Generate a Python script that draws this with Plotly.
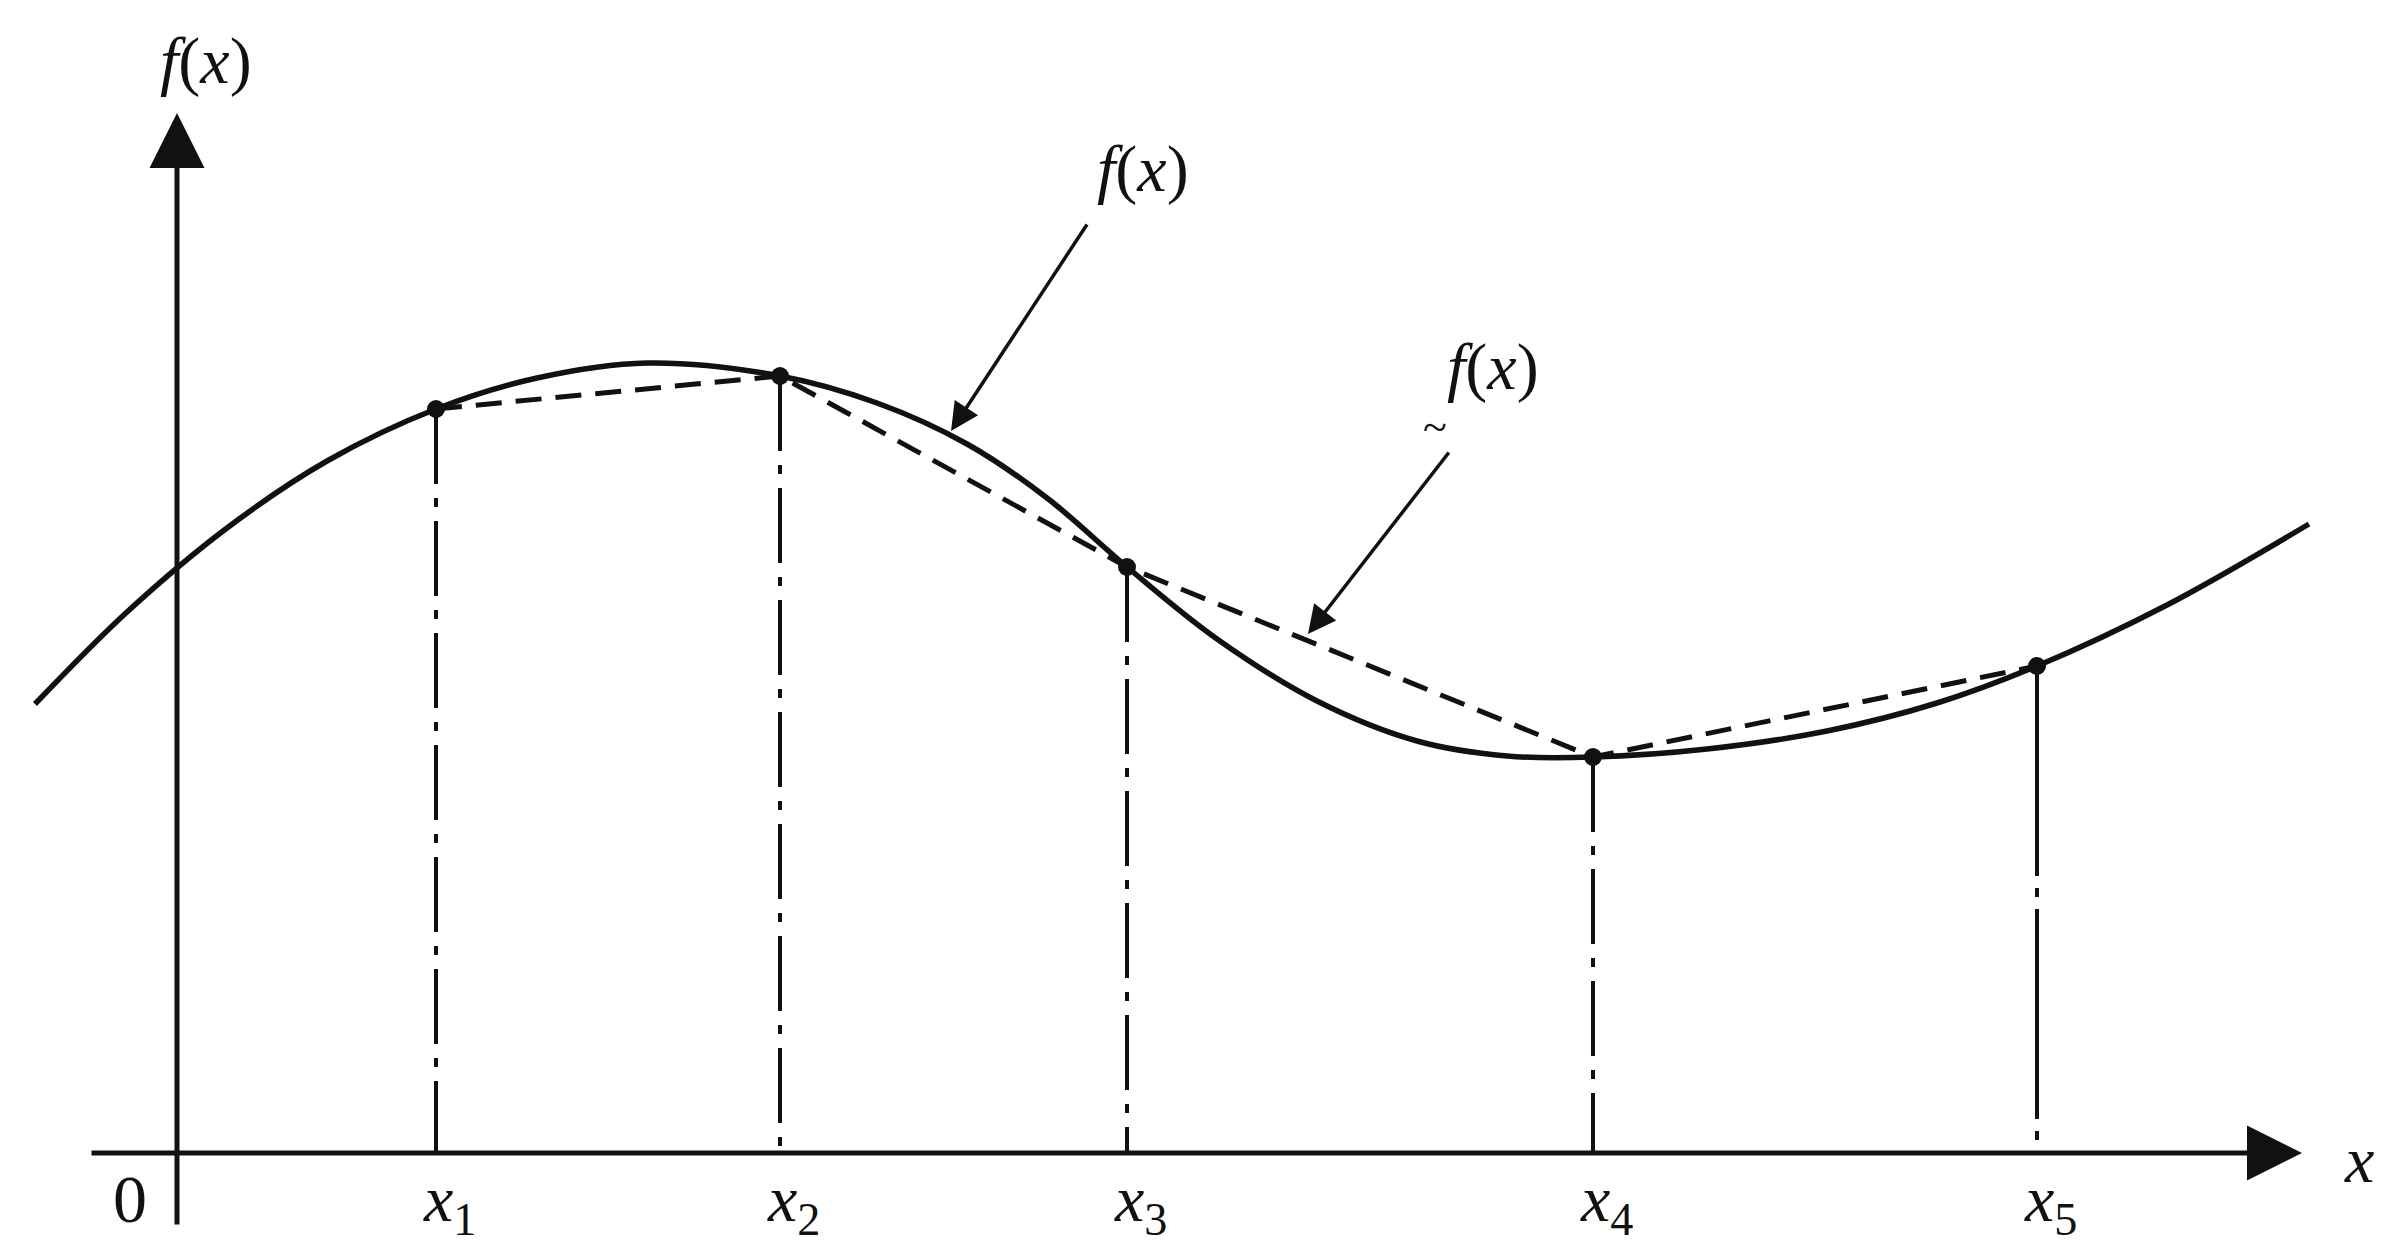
import plotly.graph_objects as go

# smooth function f(x) (units: axis origin at 0,0)
curve_x = [-1.42, -0.50, 0.50, 1.50, 2.59, 3.60, 4.70, 6.03, 7.00, 7.90, 8.70,
           9.50, 10.40, 11.40, 12.40, 13.30, 14.16, 15.30, 16.50, 17.60, 18.60, 19.90, 21.32]
curve_y = [4.49, 5.41, 6.25, 6.92, 7.44, 7.75, 7.90, 7.77, 7.50, 7.09, 6.55,
           5.86, 5.14, 4.52, 4.12, 3.97, 3.96, 4.04, 4.22, 4.50, 4.87, 5.48, 6.29]

# sample points x1..x5 and the piecewise linear approximation through them
node_x = [2.59, 6.03, 9.50, 14.16, 18.60]
node_y = [7.44, 7.77, 5.86, 3.96, 4.87]
node_labels = ['1', '2', '3', '4', '5']

FONT = 'Liberation Serif'
BLACK = '#111111'

traces = []

# vertical dash-dot lines from each sample down to the x axis
for i, (xi, yi) in enumerate(zip(node_x, node_y)):
    dash = '75px,14px,9px,14px' if i < 4 else '210px,12px,9px,12px'
    traces.append(go.Scatter(
        x=[xi, xi], y=[yi, 0], mode='lines',
        line=dict(color=BLACK, width=4, dash=dash),
        hoverinfo='skip', showlegend=False))

traces.append(go.Scatter(
    x=node_x, y=node_y, mode='lines',
    line=dict(color=BLACK, width=5, dash='26px,14px'),
    hoverinfo='skip', showlegend=False))

traces.append(go.Scatter(
    x=curve_x, y=curve_y, mode='lines',
    line=dict(color=BLACK, width=5.5, shape='spline', smoothing=1.0),
    hoverinfo='skip', showlegend=False))

traces.append(go.Scatter(
    x=node_x, y=node_y, mode='markers',
    marker=dict(color=BLACK, size=18),
    hoverinfo='skip', showlegend=False))

fig = go.Figure(data=traces)

def arrow(x, y, ax, ay, width, size):
    fig.add_annotation(x=x, y=y, ax=ax, ay=ay, xref='x', yref='y',
                       axref='x', ayref='y', text='', showarrow=True,
                       arrowhead=2, arrowwidth=width, arrowsize=size,
                       arrowcolor=BLACK)

# coordinate axes
arrow(21.25, 0, -0.87, 0, 5, 2.2)
arrow(0, 10.40, 0, -0.73, 5, 2.2)

# pointers to the two curves
arrow(7.74, 7.22, 9.11, 9.30, 3.5, 1.6)
arrow(11.31, 5.19, 12.73, 7.02, 3.5, 1.6)

def label(x, y, text, size=66):
    fig.add_annotation(x=x, y=y, xref='x', yref='y', text=text,
                       showarrow=False, font=dict(family=FONT, size=size, color=BLACK))

label(0.29, 10.92, '<i>f</i>(<i>x</i>)')
label(9.66, 9.84, '<i>f</i>(<i>x</i>)')
label(13.16, 7.86, '<i>f</i>(<i>x</i>)')
label(12.58, 7.26, '~', size=44)
label(21.82, -0.06, '<i>x</i>')
label(-0.47, -0.46, '0', size=68)
for xi, n in zip(node_x, node_labels):
    label(xi + 0.13, -0.50, '<i>x</i><sub>' + n + '</sub>')

fig.update_layout(
    width=2385, height=1251,
    margin=dict(l=0, r=0, t=0, b=0),
    paper_bgcolor='white', plot_bgcolor='white',
    xaxis=dict(range=[-1.69, 22.16], visible=False, fixedrange=True),
    yaxis=dict(range=[-1.06, 11.45], visible=False, fixedrange=True),
)

fig.write_html('out.html')
